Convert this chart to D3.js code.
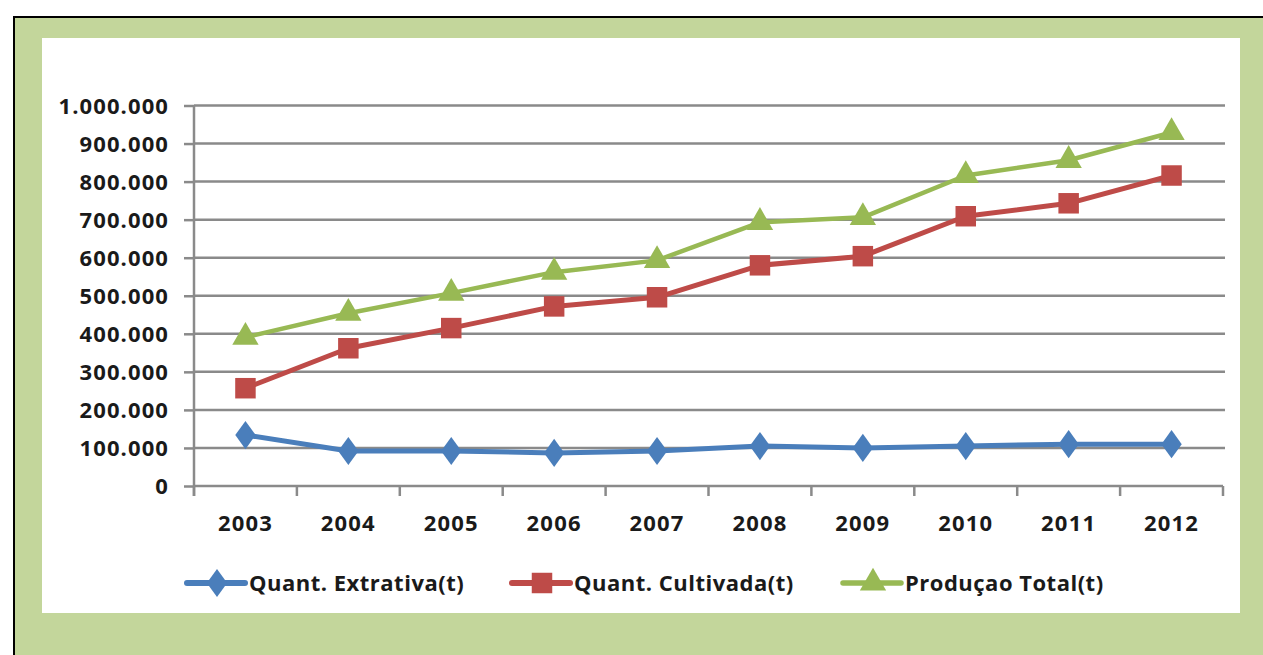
<!DOCTYPE html>
<html><head><meta charset="utf-8">
<script src="https://cdn.jsdelivr.net/npm/d3@7"></script>
<style>
html,body{margin:0;padding:0;background:#fff;}
svg{display:block;}
text{font-family:"Open Sans",Lato,sans-serif;font-weight:700;fill:#1a1a1a;}
</style></head>
<body>
<svg id="c" width="1263" height="655"></svg>
<script>
const years = ["2003","2004","2005","2006","2007","2008","2009","2010","2011","2012"];
const extrativa = [134000, 92000, 92000, 87000, 92000, 105000, 100000, 105000, 110000, 110000];
const cultivada = [257000, 362000, 415000, 472000, 496000, 580000, 604000, 709000, 743000, 816000];
const total = [391000, 454000, 507000, 562000, 593000, 693000, 706000, 816000, 856000, 929000];
const yTicks = [0,100000,200000,300000,400000,500000,600000,700000,800000,900000,1000000];
const seriesNames = ["Quant. Extrativa(t)","Quant. Cultivada(t)","Produçao Total(t)"];

const svg = d3.select("#c");
// background frame
svg.append("rect").attr("x",14).attr("y",17).attr("width",1263-14).attr("height",655-17).attr("fill","#c3d69b");
svg.append("line").attr("x1",14).attr("x2",1263).attr("y1",17).attr("y2",17).attr("stroke","#000").attr("stroke-width",2);
svg.append("line").attr("x1",14).attr("x2",14).attr("y1",16).attr("y2",655).attr("stroke","#000").attr("stroke-width",2);
svg.append("rect").attr("x",42).attr("y",38).attr("width",1198).attr("height",575).attr("fill","#fff");

const L=194, R=1223, T=105.5, B=486;
const x = d3.scaleBand().domain(years).range([L,R]);
const y = d3.scaleLinear().domain([0,1000000]).range([B,T]);
const fmt = v => v===0 ? "0" : d3.format(",")(v).replace(/,/g,".");

// gridlines
svg.append("g").selectAll("line").data(yTicks.filter(d=>d>0)).join("line")
  .attr("x1",L).attr("x2",R+2).attr("y1",d=>y(d)).attr("y2",d=>y(d))
  .attr("stroke","#8a8a8a").attr("stroke-width",2.5);

// y axis
const yAxis = d3.axisLeft(y).tickValues(yTicks).tickFormat(fmt).tickSize(10).tickPadding(15);
const gy = svg.append("g").attr("transform",`translate(${L},0)`).call(yAxis);
gy.select(".domain").remove();
gy.selectAll(".tick line").attr("stroke","#8a8a8a").attr("stroke-width",2.5);
gy.selectAll(".tick text").style("font-size","22px").style("letter-spacing","1.1px").attr("dy","0.36em");
svg.append("line").attr("x1",L).attr("x2",L).attr("y1",T).attr("y2",B+10).attr("stroke","#8a8a8a").attr("stroke-width",2.5);

// x axis
const gx = svg.append("g").attr("transform",`translate(0,${B})`);
gx.append("line").attr("x1",L).attr("x2",R).attr("y1",0).attr("y2",0).attr("stroke","#8a8a8a").attr("stroke-width",2.5);
const bounds = years.map(d=>x(d)).concat([R]);
gx.selectAll("line.tk").data(bounds).join("line").attr("class","tk")
  .attr("x1",d=>d).attr("x2",d=>d).attr("y1",0).attr("y2",10).attr("stroke","#8a8a8a").attr("stroke-width",2.5);
gx.selectAll("text").data(years).join("text")
  .attr("x",d=>x(d)+x.bandwidth()/2).attr("y",45).attr("text-anchor","middle")
  .style("font-size","22px").style("letter-spacing","1.2px").text(d=>d);

const cx = d => x(d)+x.bandwidth()/2;
const colors = ["#4a7ebb","#be4b48","#98b954"];
const data = [extrativa, cultivada, total];
const widths = [5,5,4.5];
const symbols = [d3.symbolDiamond, d3.symbolSquare, d3.symbolTriangle];
const sizes = [230, 420, 300];

data.forEach((vals,i)=>{
  const line = d3.line().x((d,j)=>cx(years[j])).y(d=>y(d));
  svg.append("path").datum(vals).attr("d",line).attr("fill","none")
    .attr("stroke",colors[i]).attr("stroke-width",widths[i]).attr("stroke-linejoin","round");
  const sym = d3.symbol().type(symbols[i]).size(sizes[i]);
  svg.append("g").selectAll("path").data(vals).join("path")
    .attr("d",sym)
    .attr("transform",(d,j)=>`translate(${cx(years[j])},${y(d)})` + (i===0?" scale(1.25,1)":""))
    .attr("fill",colors[i]);
});

// legend
const legX = [187, 512, 843];
const legY = 583;
seriesNames.forEach((n,i)=>{
  const g = svg.append("g").attr("transform",`translate(${legX[i]},${legY})`);
  g.append("line").attr("x1",0).attr("x2",58).attr("y1",0).attr("y2",0)
    .attr("stroke",colors[i]).attr("stroke-width",widths[i]+1).attr("stroke-linecap","round");
  g.append("path").attr("d",d3.symbol().type(symbols[i]).size(sizes[i])())
    .attr("transform",`translate(30,0)` + (i===0?" scale(1.25,1)":"")).attr("fill",colors[i]);
  g.append("text").attr("x",62).attr("y",0).attr("dy","0.36em").style("font-size","22px").style("letter-spacing","0.5px").text(n);
});
</script>
</body></html>
